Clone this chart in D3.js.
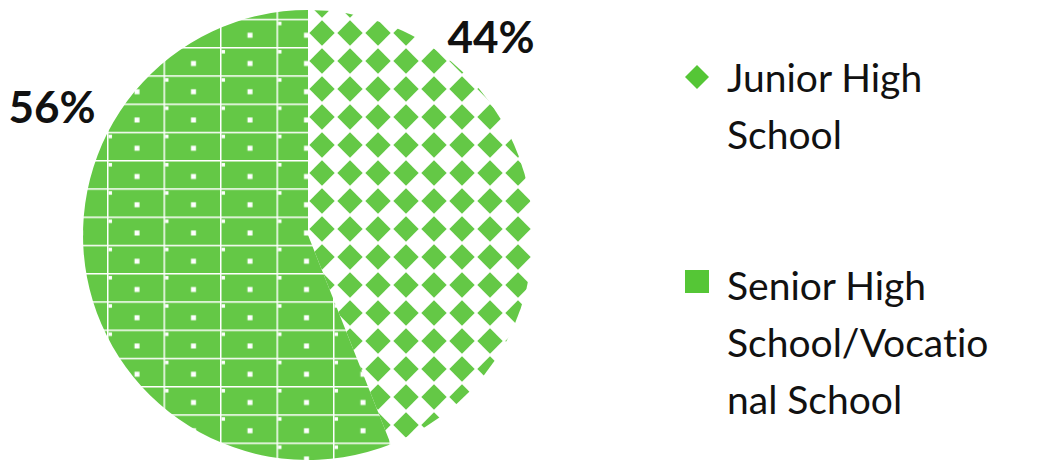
<!DOCTYPE html>
<html>
<head>
<meta charset="utf-8">
<script src="https://cdn.jsdelivr.net/npm/d3@7"></script>
<style>
  body { margin: 0; background: #fff; }
  svg { display: block; }
  text { font-variant-ligatures: none; font-feature-settings: "liga" 0, "clig" 0; }
</style>
</head>
<body>
<svg id="chart"></svg>
<script>
let categories = ["Junior High School", "Senior High School/Vocational School"]
let values = [44, 56]
let legendLines = [["Junior High", "School"], ["Senior High", "School/Vocatio", "nal School"]]
let labelText = ["44%", "56%"]

let width = 1042
let height = 462
let green = "#64c846"

let svg = d3.select('#chart')
            .attr('width', width)
            .attr('height', height)

let defs = svg.append('defs')

// diamond pattern for junior high
let pJ = defs.append('pattern')
             .attr('id', 'pat-junior')
             .attr('patternUnits', 'userSpaceOnUse')
             .attr('x', 308).attr('y', 8)
             .attr('width', 28).attr('height', 28)
pJ.append('rect').attr('width', 28).attr('height', 28).attr('fill', '#fff')
pJ.append('path').attr('d', 'M14,1.3 L26.7,14 L14,26.7 L1.3,14 Z').attr('fill', green)

// grid pattern for senior high
let pS = defs.append('pattern')
             .attr('id', 'pat-senior')
             .attr('patternUnits', 'userSpaceOnUse')
             .attr('x', 81.5).attr('y', 9.75)
             .attr('width', 56.5).attr('height', 28.25)
pS.append('rect').attr('width', 56.5).attr('height', 28.25).attr('fill', green)
pS.append('rect').attr('width', 56.5).attr('height', 1.5).attr('fill', '#fff')
pS.append('rect').attr('width', 1.5).attr('height', 28.25).attr('fill', '#fff')
pS.append('rect').attr('x', 1.5).attr('y', 3).attr('width', 3.5).attr('height', 3.5).attr('fill', '#fff')
pS.append('rect').attr('x', 27.5).attr('y', 14).attr('width', 5).attr('height', 5).attr('fill', '#fff')

let patterns = ['url(#pat-junior)', 'url(#pat-senior)']

let cx = 308, cy = 235, radius = 225

let pie = d3.pie().sort(null).value((d) => d)
let arc = d3.arc().innerRadius(0).outerRadius(radius)

let g = svg.append('g').attr('transform', 'translate(' + cx + ',' + cy + ')')

g.selectAll('path.slice')
 .data(pie(values))
 .enter()
 .append('path')
 .attr('class', 'slice')
 .attr('d', arc)
 .attr('fill', (d, i) => patterns[i])

// percentage labels
let labelPos = [[491, 53], [52, 123]]
svg.selectAll('text.pct')
   .data(labelText)
   .enter()
   .append('text')
   .attr('class', 'pct')
   .attr('x', (d, i) => labelPos[i][0])
   .attr('y', (d, i) => labelPos[i][1])
   .attr('text-anchor', 'middle')
   .style('font-family', 'Lato, sans-serif')
   .style('font-weight', 'bold')
   .style('font-size', '44px')
   .attr('fill', '#111')
   .text((d) => d)

// legend
let legendY = [92, 300]
let lineH = 57
let leg = svg.selectAll('g.leg')
             .data(categories)
             .enter()
             .append('g')
             .attr('class', 'leg')

leg.each(function(d, i) {
    let el = d3.select(this)
    if (i === 0) {
        el.append('path')
          .attr('d', 'M697,65 L709,77 L697,89 L685,77 Z')
          .attr('fill', '#55c636')
    } else {
        el.append('rect')
          .attr('x', 685).attr('y', 270)
          .attr('width', 24).attr('height', 23)
          .attr('fill', '#55c636')
    }
    let t = el.append('text')
              .attr('x', 727)
              .attr('y', legendY[i])
              .style('font-family', 'Lato, sans-serif')
              .style('font-size', '39px')
              .attr('fill', '#111')
    legendLines[i].forEach((line, k) => {
        t.append('tspan').attr('x', 727).attr('dy', k === 0 ? 0 : lineH).text(line)
    })
})
</script>
</body>
</html>
